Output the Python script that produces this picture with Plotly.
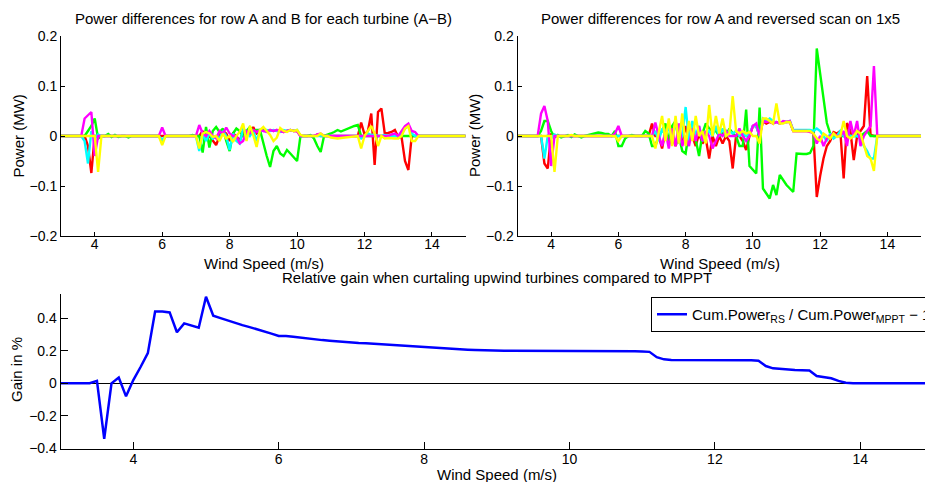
import plotly.graph_objects as go

# Wind speed grid (m/s), 0.1 step from 3.0 to 15.0
wind_speed = [
    3.0, 3.1, 3.2, 3.3, 3.4, 3.5, 3.6, 3.7, 3.8, 3.9,
    4.0, 4.1, 4.2, 4.3, 4.4, 4.5, 4.6, 4.7, 4.8, 4.9,
    5.0, 5.1, 5.2, 5.3, 5.4, 5.5, 5.6, 5.7, 5.8, 5.9,
    6.0, 6.1, 6.2, 6.3, 6.4, 6.5, 6.6, 6.7, 6.8, 6.9,
    7.0, 7.1, 7.2, 7.3, 7.4, 7.5, 7.6, 7.7, 7.8, 7.9,
    8.0, 8.1, 8.2, 8.3, 8.4, 8.5, 8.6, 8.7, 8.8, 8.9,
    9.0, 9.1, 9.2, 9.3, 9.4, 9.5, 9.6, 9.7, 9.8, 9.9,
    10.0, 10.1, 10.2, 10.3, 10.4, 10.5, 10.6, 10.7, 10.8, 10.9,
    11.0, 11.1, 11.2, 11.3, 11.4, 11.5, 11.6, 11.7, 11.8, 11.9,
    12.0, 12.1, 12.2, 12.3, 12.4, 12.5, 12.6, 12.7, 12.8, 12.9,
    13.0, 13.1, 13.2, 13.3, 13.4, 13.5, 13.6, 13.7, 13.8, 13.9,
    14.0, 14.1, 14.2, 14.3, 14.4, 14.5, 14.6, 14.7, 14.8, 14.9,
    15.0,
]

# ---- Top-left: row A - row B (MW), one list per turbine colour ----
ab_red = [
    0, 0, 0, 0, 0, 0, 0, 0, -0.02, -0.074,
    0, 0, 0, 0, 0, 0, 0, 0, 0, 0,
    0, 0, 0, 0, 0, 0, 0, 0, 0, 0,
    0, 0, 0, 0, 0, 0, 0, 0, 0, 0,
    0, 0, 0.01, -0.005, 0, -0.01, -0.018, 0, 0.01, 0.005,
    -0.01, 0.005, 0, -0.01, 0.01, 0, 0.005, 0.018, 0.005, 0.01,
    0.012, 0.01, 0.012, 0.01, 0.012, 0.01, 0.008, 0.01, 0.012, 0.01,
    0.01, 0, 0, 0, 0, 0, 0.003, 0, 0, 0,
    0, 0, 0, 0, 0, 0, 0, 0, 0, 0.027,
    0.003, 0.01, 0.045, -0.058, 0.048, 0.055, 0.005, 0.006, 0.008, 0.012,
    -0.002, -0.003, -0.05, -0.068, 0, 0, 0, 0, 0, 0,
    0, 0, 0, 0, 0, 0, 0, 0, 0, 0,
    0,
]
ab_green = [
    0, 0, 0, 0, 0, 0, 0, 0, 0.01, 0.02,
    0.035, -0.005, 0, 0, 0.004, -0.002, 0.002, -0.002, 0, 0,
    -0.003, 0, 0, 0, 0, 0, 0, 0, 0, 0,
    -0.012, 0, 0, 0, 0, 0, 0, 0, 0, 0.002,
    0, 0, -0.033, 0.018, -0.023, 0.01, 0.018, 0.008, 0.015, -0.01,
    -0.03, 0.005, 0.015, 0.01, 0, 0.01, 0.018, 0.01, 0.012, 0.012,
    -0.015, -0.04, -0.062, -0.03, -0.02, -0.035, -0.04, -0.028, -0.035, -0.042,
    -0.05, 0, 0, 0, 0.002, -0.005, -0.02, -0.032, 0, 0.002,
    0.005, 0.008, 0.012, 0.009, 0.012, 0.015, 0.018, 0.02, 0.022, 0,
    0, 0, 0, 0, 0, 0, 0, 0, 0, 0,
    0, 0, 0, 0, 0, 0, 0, 0, 0, 0,
    0, 0, 0, 0, 0, 0, 0, 0, 0, 0,
    0,
]
ab_cyan = [
    0, 0, 0, 0, 0, 0, 0, -0.01, -0.055, 0.01,
    -0.005, 0.003, 0, 0, 0, 0, 0, 0, 0, 0,
    0, 0, 0, 0, 0, 0, 0, 0, 0, 0,
    -0.008, 0, 0, 0, 0, 0, 0, 0, 0, 0,
    0, -0.03, 0.005, -0.01, 0.005, -0.005, 0, -0.005, 0.01, 0,
    -0.028, 0.005, -0.01, -0.015, 0.015, 0.008, 0, 0.01, -0.01, 0.012,
    0.01, 0.012, 0.01, 0.012, 0.01, 0.008, 0.012, 0.01, 0.012, 0.01,
    0.012, 0, 0, 0, 0, 0, 0, 0, 0, 0,
    0, 0, 0, 0, 0, 0, 0, 0, 0, -0.005,
    0, 0.005, 0.002, 0.003, 0, 0, 0.002, 0, 0, 0,
    0, 0.005, 0.015, 0.02, 0.005, 0, 0, 0, 0, 0,
    0, 0, 0, 0, 0, 0, 0, 0, 0, 0,
    0,
]
ab_magenta = [
    0, 0, 0, 0, 0, 0, 0, 0.035, 0.042, 0.048,
    -0.04, 0, 0, 0, 0, 0, 0, 0, 0, 0,
    0, 0, 0, 0, 0, 0, 0, 0, 0, 0,
    0.017, 0, 0, 0, 0, 0, 0, 0, 0, 0,
    0, 0.022, 0.005, 0, 0.01, 0, -0.005, 0.01, 0.005, 0.017,
    0.005, 0, 0, -0.015, -0.01, 0.01, 0.005, 0.012, 0.008, 0.012,
    0.01, 0.008, 0.012, 0.01, 0.012, 0.01, 0.008, 0.01, 0.012, 0.01,
    0.01, 0, 0, 0, 0, 0, 0.003, 0.005, 0, 0,
    0, 0, 0, 0, 0, 0, 0, 0, 0, 0,
    0, 0, 0, 0, 0, 0, 0, 0, 0.003, 0.005,
    0, 0.01, 0.02, 0.025, 0.01, 0.008, 0, 0, 0, 0,
    0, 0, 0, 0, 0, 0, 0, 0, 0, 0,
    0,
]
ab_yellow = [
    0, 0, 0, 0, 0, 0, 0, 0, 0, 0,
    0, -0.072, 0, 0, 0, 0, 0, 0, 0, 0,
    0, 0, 0, 0, 0, 0, 0, 0, 0, 0,
    -0.018, 0, 0, 0, 0, 0, 0, 0, 0, 0,
    0, -0.025, 0.005, 0.008, 0.005, -0.002, 0, -0.01, 0.005, -0.005,
    0, -0.012, 0, 0.008, 0.025, -0.01, 0.02, 0.002, -0.022, 0.012,
    0.018, 0.01, 0.002, -0.01, -0.003, 0.016, 0.01, 0.008, 0.012, 0.01,
    0.012, 0.002, 0, 0, 0, 0, 0, 0.005, 0, 0,
    -0.003, -0.004, -0.005, -0.004, -0.003, -0.003, -0.002, -0.001, 0, -0.025,
    0, 0.01, 0.02, 0.005, -0.02, 0, -0.005, -0.004, -0.005, -0.005,
    -0.005, 0, 0.015, 0.02, -0.01, -0.01, 0, 0, 0, 0,
    0, 0, 0, 0, 0, 0, 0, 0, 0, 0,
    0,
]

# ---- Top-right: row A - reversed scan on 1x5 (MW) ----
rs_red = [
    0, 0, 0, 0, 0, 0, 0, 0, -0.055, -0.065,
    0.005, 0, 0, 0, 0, 0, 0, 0, 0, 0,
    0, 0, 0, 0, 0, 0, 0, 0, 0, 0,
    0, 0, 0, 0, 0, 0, 0, 0, 0, 0,
    0.025, 0, 0, -0.025, 0.01, -0.015, 0, -0.02, 0, -0.01,
    0.02, -0.01, 0, -0.02, 0.005, -0.015, -0.005, -0.045, 0, -0.02,
    0, -0.015, 0, -0.01, -0.065, 0, 0, -0.01, -0.028, 0,
    0.02, 0.02, 0, 0.03, 0.025, 0.028, 0.025, 0.028, 0.025, 0.028,
    0.028, 0.028, 0.01, 0.01, 0.01, 0.01, 0.01, 0.01, 0.005, -0.122,
    -0.08, -0.045, -0.02, -0.01, 0.008, 0.005, 0.01, -0.085, 0.026, 0.01,
    -0.048, 0, 0.01, 0.02, 0.12, 0.002, 0, 0, 0, 0,
    0, 0, 0, 0, 0, 0, 0, 0, 0, 0,
    0,
]
rs_green = [
    0, 0, 0, 0, 0, 0, 0, 0.01, 0.03, 0.03,
    0.01, -0.003, 0.002, -0.003, 0, 0.002, -0.002, 0.003, 0, -0.003,
    0, 0.002, 0.004, 0.006, 0.007, 0.006, 0.004, 0.004, 0, 0.01,
    -0.02, -0.02, -0.005, 0, 0.002, 0, 0, 0, 0.01, 0.005,
    -0.02, -0.02, 0, 0.01, 0.025, -0.01, 0.02, 0.03, 0, -0.03,
    -0.035, 0.01, 0.025, -0.005, -0.04, 0.005, 0.025, 0.015, 0.01, 0.01,
    0, 0.005, 0, 0.015, 0.005, 0, -0.02, -0.02, 0.053, -0.06,
    -0.068, -0.075, 0.057, -0.105, -0.115, -0.125, -0.098, -0.118, -0.078, -0.088,
    -0.098, -0.105, -0.112, -0.035, -0.036, -0.036, -0.036, -0.034, -0.02, 0.175,
    0.125, 0.075, 0.026, 0.005, 0, 0, 0, 0, 0, 0,
    0, 0, 0, 0.005, 0.01, 0, 0, 0, 0, 0,
    0, 0, 0, 0, 0, 0, 0, 0, 0, 0,
    0,
]
rs_cyan = [
    0, 0, 0, 0, 0, 0, 0, 0, -0.045, 0,
    -0.005, 0.003, 0, 0, 0, 0, 0, 0, 0, 0,
    0, 0, 0, 0, 0, 0, 0, 0, 0, 0,
    0, 0, 0, 0, 0, 0, 0, 0, 0, 0,
    0, 0.01, -0.01, 0.015, 0, 0.02, -0.01, 0.03, -0.015, 0,
    0.058, -0.01, 0.03, 0, 0.02, -0.01, 0, 0.01, 0, 0.02,
    0, 0.015, 0, 0.01, 0.005, 0.01, 0, 0.005, 0, 0.005,
    0.02, 0.02, 0, 0.035, 0.03, 0.035, 0.03, 0.028, 0.025, 0.028,
    0.028, 0.03, 0.012, 0.012, 0.012, 0.012, 0.012, 0.012, 0.01, 0.015,
    0.01, 0, -0.01, 0.005, -0.005, 0, 0.01, 0, 0.005, 0,
    0, 0, -0.005, -0.02, -0.03, -0.045, -0.045, 0, 0, 0,
    0, 0, 0, 0, 0, 0, 0, 0, 0, 0,
    0,
]
rs_magenta = [
    0, 0, 0, 0, 0, 0, 0, 0.045, 0.06, 0.03,
    -0.06, 0, 0, 0, 0, 0, 0, 0, 0, 0,
    0, 0, 0, 0, 0, 0, 0, 0, 0, 0.005,
    0.02, 0, 0, 0, 0, 0, 0, 0, 0, 0,
    0, 0.027, 0, -0.02, 0.01, -0.025, 0.015, -0.02, 0.025, -0.02,
    0, -0.02, 0.015, -0.01, 0.02, -0.01, 0.01, 0, -0.025, -0.01,
    0.005, 0, 0.01, 0, 0, 0, 0.015, 0, -0.01, 0,
    0.02, 0.025, 0, 0.03, 0.028, 0.03, 0.025, 0.028, 0.025, 0.03,
    0.028, 0.03, 0.01, 0.01, 0.01, 0.01, 0.01, 0.008, 0.005, -0.015,
    0, -0.02, -0.005, 0, 0.005, 0, 0, 0.01, -0.02, 0.03,
    0, 0.03, -0.02, 0, 0.01, 0.02, 0.14, 0, 0, 0,
    0, 0, 0, 0, 0, 0, 0, 0, 0, 0,
    0,
]
rs_yellow = [
    0, 0, 0, 0, 0, 0, 0, 0, 0, 0,
    0, -0.072, 0, 0, 0, 0, 0.002, 0, 0, 0,
    0, 0, 0, 0, 0, 0, 0, 0, 0, 0,
    -0.01, 0, 0, 0, 0, 0, 0, 0, 0, 0,
    0, -0.025, 0.01, 0.04, -0.01, 0.035, -0.02, 0.04, -0.015, 0.045,
    -0.02, 0.03, -0.01, 0.04, 0, 0.01, -0.015, 0.062, 0, 0.04,
    0.005, 0.035, 0, 0.005, 0.08, 0.01, 0.005, 0.01, 0.005, 0.008,
    0, 0, -0.015, 0.035, 0.035, 0.03, 0.025, 0.065, 0.025, 0.025,
    0.028, 0.028, 0.01, 0.01, 0.01, 0.01, 0.01, 0.01, 0.005, -0.005,
    -0.01, 0.005, 0, -0.005, 0.005, -0.002, 0, 0.03, 0, -0.005,
    0, 0.01, 0.005, -0.02, -0.04, -0.045, -0.07, 0, 0, 0,
    0, 0, 0, 0, 0, 0, 0, 0, 0, 0,
    0,
]

# ---- Bottom: relative gain (%) ----
gain = [
    0, 0, 0, 0, 0, 0.015, -0.34, 0, 0.035, -0.08,
    0.02, 0.1, 0.185, 0.44, 0.44, 0.435, 0.313, 0.368, 0.355, 0.341,
    0.531, 0.415, 0.4, 0.385, 0.37, 0.357, 0.345, 0.333, 0.32, 0.305,
    0.29, 0.29, 0.285, 0.279, 0.274, 0.269, 0.265, 0.261, 0.257, 0.253,
    0.25, 0.248, 0.246, 0.243, 0.24, 0.237, 0.234, 0.23, 0.227, 0.224,
    0.22, 0.217, 0.214, 0.212, 0.21, 0.208, 0.206, 0.204, 0.202, 0.2,
    0.2, 0.2, 0.2, 0.2, 0.2, 0.2, 0.2, 0.2, 0.2, 0.2,
    0.2, 0.2, 0.2, 0.2, 0.2, 0.2, 0.199, 0.198, 0.197, 0.196,
    0.195, 0.193, 0.16, 0.147, 0.143, 0.143, 0.143, 0.143, 0.143, 0.144,
    0.144, 0.145, 0.145, 0.144, 0.143, 0.142, 0.139, 0.106, 0.092, 0.087,
    0.083, 0.081, 0.08, 0.078, 0.045, 0.038, 0.031, 0.015, 0.003, 0,
    0, 0, 0, 0, 0, 0, 0, 0, 0, 0,
    0,
]

turbine_colors = ["#ff0000", "#00ff00", "#00ffff", "#ff00ff", "#ffff00"]
ab_series = [ab_red, ab_green, ab_cyan, ab_magenta, ab_yellow]
rs_series = [rs_red, rs_green, rs_cyan, rs_magenta, rs_yellow]

x_ticks = [4, 6, 8, 10, 12, 14]
top_y_ticks = [-0.2, -0.1, 0, 0.1, 0.2]
bot_y_ticks = [-0.4, -0.2, 0, 0.2, 0.4]

FONT = "Liberation Sans, Arial, Helvetica, sans-serif"
W, H = 925, 482

fig = go.Figure()

for vals, col in zip(ab_series, turbine_colors):
    fig.add_trace(go.Scatter(x=wind_speed, y=vals, mode="lines",
                             line=dict(color=col, width=2.4),
                             showlegend=False, xaxis="x", yaxis="y"))
for vals, col in zip(rs_series, turbine_colors):
    fig.add_trace(go.Scatter(x=wind_speed, y=vals, mode="lines",
                             line=dict(color=col, width=2.4),
                             showlegend=False, xaxis="x2", yaxis="y2"))

fig.add_trace(go.Scatter(
    x=wind_speed, y=gain, mode="lines",
    line=dict(color="#0000ff", width=2.5),
    name="Cum.Power<sub>RS</sub> / Cum.Power<sub>MPPT</sub> \u2212 1",
    showlegend=True, xaxis="x3", yaxis="y3"))


def px_x(p):
    return p / W


def px_y(p):
    return (H - p) / H


axis_common = dict(showline=True, linecolor="black", linewidth=1, mirror=False,
                   ticks="inside", tickcolor="black", showgrid=False,
                   tickfont=dict(family=FONT, size=14, color="black"))

top_y_dom = [px_y(236), px_y(36)]

fig.update_layout(
    width=W, height=H,
    margin=dict(l=0, r=0, t=0, b=0, autoexpand=False),
    paper_bgcolor="white", plot_bgcolor="white",
    font=dict(family=FONT, size=14, color="black"),
    xaxis=dict(domain=[px_x(61), px_x(465.7)], range=[3, 15], tickvals=x_ticks,
               ticklen=4, anchor="y", zeroline=False, ticklabelstandoff=-5,
               **axis_common),
    yaxis=dict(domain=top_y_dom, range=[-0.2, 0.2], tickvals=top_y_ticks,
               ticklen=4, anchor="x", zeroline=False, **axis_common),
    xaxis2=dict(domain=[px_x(517.5), px_x(921)], range=[3, 15], tickvals=x_ticks,
                ticklen=4, anchor="y2", zeroline=False, ticklabelstandoff=-5,
                **axis_common),
    yaxis2=dict(domain=top_y_dom, range=[-0.2, 0.2], tickvals=top_y_ticks,
                ticklen=4, anchor="x2", zeroline=False, **axis_common),
    xaxis3=dict(domain=[px_x(60.6), 1.0], range=[3, 14.89], tickvals=x_ticks,
                ticklen=7, anchor="y3", zeroline=False, ticklabelstandoff=-2,
                **axis_common),
    yaxis3=dict(domain=[px_y(448.5), px_y(294)], range=[-0.4, 0.548],
                tickvals=bot_y_ticks, ticklen=7, anchor="x3",
                zeroline=True, zerolinecolor="black", zerolinewidth=1,
                **axis_common),
    legend=dict(x=px_x(651), y=px_y(297), xanchor="left", yanchor="top",
                bgcolor="white", bordercolor="black", borderwidth=1,
                font=dict(family=FONT, size=15, color="black"),
                tracegroupgap=0, itemwidth=30),
)

ann = []


def add_text(text, x, y, angle=0, size=15):
    ann.append(dict(text=text, x=px_x(x), y=px_y(y), xref="paper", yref="paper",
                    showarrow=False, xanchor="center", yanchor="middle",
                    textangle=angle, font=dict(family=FONT, size=size, color="black")))


add_text("Power differences for row A and B for each turbine (A\u2212B)", 263.5, 19)
add_text("Power differences for row A and reversed scan on 1x5", 720, 19)
add_text("Relative gain when curtaling upwind turbines compared to MPPT", 497, 277)
add_text("Wind Speed (m/s)", 263.5, 263)
add_text("Wind Speed (m/s)", 720, 263)
add_text("Wind Speed (m/s)", 497, 474)
add_text("Power (MW)", 17.5, 136, angle=-90)
add_text("Power (MW)", 474, 136, angle=-90)
add_text("Gain in %", 17, 370, angle=-90)

fig.update_layout(annotations=ann)

fig.write_html("out.html")
